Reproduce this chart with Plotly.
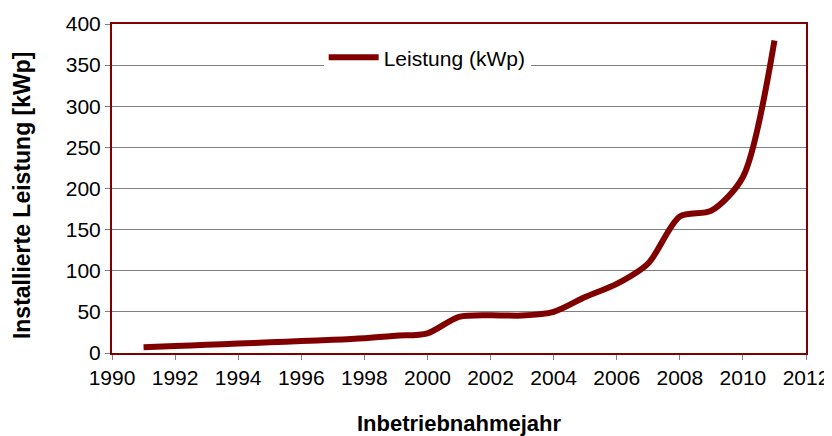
import plotly.graph_objects as go

years = [1991, 1992, 1993, 1994, 1995, 1996, 1997, 1998, 1999, 2000,
         2001, 2002, 2003, 2004, 2005, 2006, 2007, 2008, 2009, 2010, 2011]
leistung = [7, 8.5, 10, 11.5, 13, 14.5, 16, 18, 21, 24,
            44, 46, 45.5, 50, 68, 84, 109, 166, 173, 214, 380]
series_name = "Leistung (kWp)"
x_title = "Inbetriebnahmejahr"
y_title = "Installierte Leistung [kWp]"
x_ticks = list(range(1990, 2013, 2))
y_ticks = list(range(0, 401, 50))

fig = go.Figure()
fig.add_trace(go.Scatter(
    x=years, y=leistung, mode="lines", name=series_name,
    line=dict(color="#800000", width=6, shape="spline", smoothing=0.8),
))

font_family = "Liberation Sans, Arial, sans-serif"
# page body has an 8px default margin, so figure is sized/margined to compensate
fig.update_layout(
    width=824, height=428,
    margin=dict(l=104, r=26, t=16, b=83),
    paper_bgcolor="white", plot_bgcolor="white",
    font=dict(family=font_family, size=21, color="black"),
    showlegend=True,
    legend=dict(x=0.305, y=0.96, xanchor="left", yanchor="top",
                bgcolor="white", borderwidth=0, itemwidth=50,
                font=dict(family=font_family, size=21, color="black")),
    xaxis=dict(
        range=[1990, 2012], tickvals=x_ticks, ticktext=[str(t) for t in x_ticks],
        showgrid=False, zeroline=False, automargin=False,
        showline=True, linecolor="#800000", linewidth=2, mirror=True,
        ticks="outside", ticklen=5, tickcolor="#808080", tickwidth=1,
        tickfont=dict(size=21),
        title=dict(text="<b>" + x_title + "</b>", font=dict(size=22), standoff=37),
    ),
    yaxis=dict(
        range=[0, 400], tickvals=y_ticks,
        showgrid=True, gridcolor="#808080", gridwidth=1, zeroline=False, automargin=False,
        showline=True, linecolor="#800000", linewidth=2, mirror=True,
        ticks="outside", ticklen=5, tickcolor="#808080", tickwidth=1,
        tickfont=dict(size=21),
    ),
    annotations=[dict(
        text="<b>" + y_title + "</b>", textangle=-90,
        xref="paper", yref="paper", x=-0.1297, y=0.48,
        xanchor="center", yanchor="middle", showarrow=False,
        font=dict(family=font_family, size=23, color="black"),
    )],
)

fig.write_html("out.html")
